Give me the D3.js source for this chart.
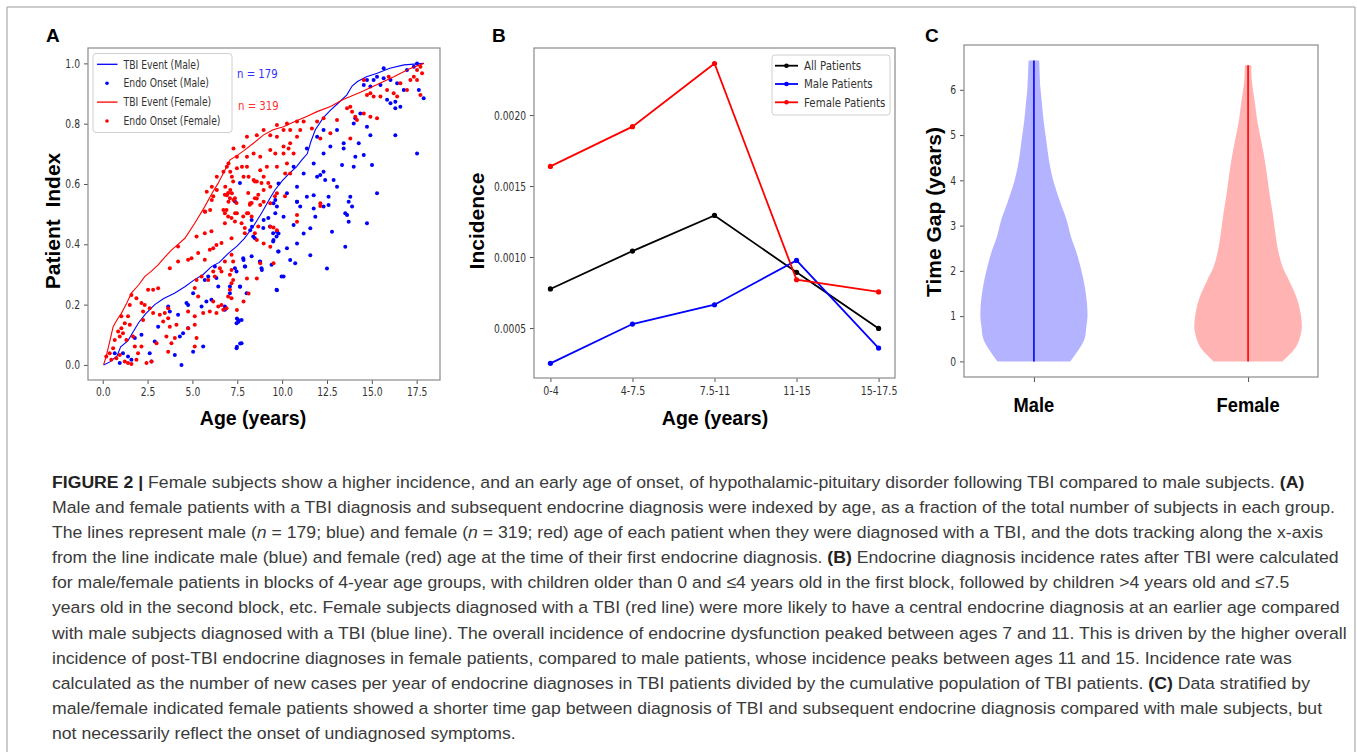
<!DOCTYPE html>
<html>
<head>
<meta charset="utf-8">
<script src="https://cdn.jsdelivr.net/npm/d3@7"></script>
<style>
  body { margin: 0; background: #fff; }
  svg { display: block; }
</style>
</head>
<body>
<script>
// ---- panel A: cumulative patient index vs age ----
const maleTbiCurve = [[0.05,0],[0.4,0.01],[0.8,0.03],[1.0,0.06],[1.4,0.08],[1.7,0.11],[2.0,0.14],[2.4,0.17],[2.9,0.2],[3.4,0.22],[4.0,0.238],[4.6,0.26],[5.1,0.282],[5.6,0.3],[6.06,0.326],[6.5,0.34],[7.0,0.37],[7.5,0.395],[7.9,0.42],[8.4,0.46],[8.85,0.503],[9.3,0.55],[9.6,0.58],[10.0,0.61],[10.4,0.635],[10.8,0.657],[11.1,0.68],[11.4,0.7],[11.6,0.74],[11.85,0.78],[12.3,0.82],[12.7,0.845],[13.1,0.867],[13.6,0.895],[13.9,0.925],[14.2,0.94],[14.7,0.956],[15.3,0.967],[16.0,0.984],[16.8,0.995],[17.9,1.0]];
const femaleTbiCurve = [[0.05,0],[0.2,0.03],[0.4,0.08],[0.58,0.127],[0.8,0.15],[1.04,0.171],[1.3,0.2],[1.6,0.238],[2.0,0.265],[2.34,0.293],[2.7,0.31],[3.09,0.332],[3.5,0.36],[3.83,0.381],[4.2,0.4],[4.58,0.42],[5.13,0.47],[5.69,0.525],[6.1,0.57],[6.43,0.602],[6.8,0.645],[7.1,0.68],[7.5,0.695],[7.85,0.71],[8.4,0.735],[8.97,0.763],[9.5,0.78],[10.08,0.79],[10.8,0.81],[11.4,0.825],[11.95,0.84],[12.7,0.857],[13.4,0.88],[14.4,0.905],[15.3,0.93],[16.2,0.955],[17.1,0.982],[17.9,1.0]];

const maleEndoOnset = [[0.95,0.006],[0.67,0.039],[1.13,0.039],[1.41,0.028],[1.6,0.017],[1.79,0.089],[2.16,0.1],[2.62,0.039],[2.72,0.011],[2.9,0.078],[3.09,0.127],[3.65,0.194],[3.74,0.177],[4.2,0.166],[4.02,0.033],[4.39,0.0],[4.3,0.094],[4.48,0.105],[4.76,0.122],[4.67,0.205],[4.76,0.199],[5.04,0.238],[5.6,0.061],[5.04,0.044],[5.51,0.194],[5.78,0.21],[6.06,0.216],[5.88,0.293],[6.34,0.288],[6.44,0.26],[6.81,0.194],[6.81,0.183],[7.09,0.238],[7.09,0.26],[7.37,0.321],[7.46,0.31],[7.65,0.26],[7.55,0.149],[7.74,0.149],[7.46,0.138],[7.74,0.072],[7.46,0.055],[7.83,0.354],[7.92,0.326],[8.02,0.238],[8.3,0.36],[8.48,0.42],[8.76,0.343],[8.85,0.321],[9.41,0.332],[9.5,0.409],[9.5,0.437],[9.69,0.426],[9.78,0.376],[9.97,0.293],[9.69,0.249],[9.23,0.487],[9.32,0.459],[8.3,0.481],[8.39,0.426],[8.95,0.454],[7.65,0.603],[7.37,0.542],[6.25,0.326],[5.69,0.282],
  [9.52,0.536],[9.62,0.503],[9.71,0.442],[9.8,0.436],[9.52,0.414],[9.8,0.376],[9.71,0.248],[10.08,0.293],[10.45,0.348],[10.27,0.387],[10.64,0.464],[10.83,0.403],[10.83,0.541],[10.73,0.337],[11.2,0.436],[11.57,0.453],[11.57,0.364],[11.76,0.519],[12.5,0.32],[12.59,0.53],[12.78,0.442],[13.52,0.392],[13.62,0.497],[13.71,0.475],[13.9,0.525],[14.73,0.47],[8.78,0.342],[8.87,0.315],[8.97,0.481],[8.22,0.447],[8.32,0.458],[7.85,0.348],[7.94,0.326],[7.66,0.259],[7.57,0.143],[7.48,0.06],[7.66,0.071],[7.48,0.154],
  [9.62,0.547],[9.71,0.525],[10.08,0.491],[10.83,0.541],[11.01,0.525],[11.38,0.558],[11.76,0.563],[11.85,0.491],[12.31,0.525],[12.59,0.558],[12.13,0.63],[12.4,0.613],[11.95,0.624],[11.76,0.668],[12.31,0.641],[12.31,0.701],[12.87,0.613],[13.52,0.503],[13.71,0.541],[13.8,0.558],[13.06,0.591],[13.34,0.663],[13.43,0.718],[13.43,0.735],[13.99,0.657],[14.08,0.69],[14.55,0.696],[14.27,0.735],[13.99,0.801],[14.08,0.818],[14.36,0.834],[14.73,0.79],[14.92,0.762],[15.29,0.569],[15.01,0.663],[15.85,0.879],[16.04,0.868],[16.31,0.851],[16.59,0.856],[16.31,0.873],[16.78,0.912],[16.41,0.934],[16.04,0.945],[15.66,0.951],[15.48,0.928],[15.29,0.956],[15.1,0.945],[14.92,0.923],[14.55,0.928],[14.73,0.945],[16.31,0.762],[17.52,0.701],[17.62,0.912],[17.89,0.884],[17.34,0.989],[16.96,0.978],[17.52,1.0],[15.66,0.984],[13.06,0.779],[12.69,0.724],[12.31,0.779],[11.95,0.757],[11.38,0.718],[10.64,0.657],[11.2,0.635],[9.8,0.602],[10.27,0.569],[10.83,0.591]];

const femaleEndoOnset = [[0.39,0.039],[0.58,0.055],[0.67,0.083],[0.86,0.111],[0.95,0.094],[1.04,0.122],[1.13,0.105],[1.23,0.138],[1.51,0.133],[1.41,0.161],[1.04,0.161],[1.51,0.199],[1.6,0.232],[1.88,0.221],[2.16,0.205],[2.25,0.177],[2.25,0.149],[2.34,0.199],[2.53,0.249],[2.81,0.249],[3.09,0.254],[2.62,0.188],[2.81,0.172],[3.18,0.166],[3.46,0.172],[3.65,0.188],[3.65,0.155],[3.74,0.127],[3.55,0.094],[3.83,0.072],[4.02,0.089],[3.65,0.044],[4.11,0.133],[4.76,0.122],[4.76,0.177],[5.13,0.161],[5.13,0.133],[5.23,0.089],[5.13,0.061],[5.6,0.172],[5.97,0.177],[6.16,0.21],[6.34,0.172],[6.44,0.194],[6.62,0.199],[6.72,0.183],[6.9,0.188],[6.99,0.227],[7.18,0.221],[7.09,0.249],[7.18,0.271],[7.27,0.282],[7.09,0.299],[7.18,0.315],[7.27,0.343],[7.18,0.365],[6.81,0.343],[6.53,0.321],[6.62,0.31],[6.25,0.293],[6.16,0.31],[5.88,0.282],[5.51,0.293],[5.23,0.282],[5.13,0.255],[5.32,0.227],[4.76,0.349],[4.95,0.354],[5.32,0.371],[5.69,0.349],[4.2,0.343],[3.74,0.321],[4.2,0.393],[5.23,0.426],[5.69,0.437],[6.06,0.443],[5.97,0.382],[6.16,0.387],[6.34,0.398],[6.62,0.404],[7.18,0.42],[6.81,0.47],[6.81,0.503],[6.99,0.492],[7.18,0.487],[7.37,0.476],[7.74,0.47],[7.83,0.492],[8.11,0.503],[8.3,0.492],[8.2,0.531],[8.11,0.57],[8.3,0.537],[8.48,0.553],[8.67,0.564],[6.81,0.564],[6.99,0.57],[7.09,0.553],[7.37,0.553],[7.46,0.537],[6.9,0.514],[7.27,0.608],[8.48,0.608],[8.85,0.603],[9.23,0.603],[9.6,0.559],[10.16,0.559],[6.16,0.559],[5.69,0.509],[7.92,0.454],[8.67,0.459],[8.48,0.437],[7.92,0.437],
  [0.48,0.017],[0.2,0.028],[0.76,0.022],[0.95,0.033],[1.23,0.011],[1.41,0.006],[1.6,0.003],[1.88,0.017],[2.44,0.006],[2.72,0.011],[1.97,0.039],[1.79,0.061],[2.16,0.061],[1.32,0.083],[1.69,0.094],[3.0,0.072],[3.37,0.144],
  [7.48,0.182],[7.85,0.21],[8.13,0.237],[8.04,0.287],[8.59,0.287],[8.78,0.337],[8.97,0.403],[8.59,0.414],[9.34,0.458],[9.52,0.456],[9.71,0.447],[10.83,0.497],[10.83,0.475],[12.13,0.527],[9.34,0.536],[8.78,0.53],[7.38,0.503],[9.34,0.392],[9.52,0.337],
  [5.71,0.508],[6.36,0.58],[6.83,0.591],[6.92,0.563],[7.11,0.58],[7.2,0.569],[7.01,0.541],[7.29,0.547],[6.73,0.514],[7.48,0.503],[8.04,0.503],[8.22,0.536],[8.59,0.552],[8.97,0.541],[7.85,0.624],[8.13,0.624],[8.41,0.613],[8.59,0.608],[8.97,0.624],[8.78,0.646],[9.15,0.657],[7.48,0.652],[7.76,0.657],[8.04,0.657],[7.48,0.69],[8.04,0.69],[8.41,0.701],[8.78,0.69],[9.34,0.713],[9.62,0.701],[10.08,0.724],[10.36,0.718],[10.08,0.701],[10.45,0.735],[10.64,0.701],[9.34,0.762],[9.71,0.757],[10.08,0.779],[10.45,0.779],[10.83,0.757],[11.01,0.779],[11.2,0.807],[11.66,0.784],[11.95,0.807],[10.83,0.807],[10.27,0.801],[9.71,0.657],[10.27,0.668],[8.97,0.58],[9.34,0.591],[9.71,0.569],[10.17,0.635],[10.45,0.635],[12.31,0.818],[12.13,0.536],
  [13.62,0.851],[13.8,0.856],[13.9,0.84],[14.08,0.823],[14.17,0.812],[13.8,0.751],[14.55,0.834],[14.73,0.895],[14.92,0.901],[15.1,0.89],[15.48,0.89],[15.85,0.912],[16.22,0.901],[16.41,0.89],[16.59,0.934],[16.96,0.912],[17.15,0.945],[17.34,0.956],[17.52,0.978],[17.71,0.989],[17.8,0.967],[17.52,0.945],[17.71,0.895],[14.92,0.823],[15.29,0.818],[15.94,0.956],[14.55,0.945],[12.69,0.768],[12.13,0.751],[13.06,0.812],
  [6.08,0.591],[6.36,0.624],[6.73,0.641],[7.01,0.668],[7.29,0.718],[7.85,0.724],[8.04,0.757],[8.59,0.762],[8.97,0.779],[9.71,0.796],[7.2,0.624],[7.11,0.641],[6.92,0.657],[6.08,0.547],[5.99,0.514],[5.8,0.574]];

const ageTicksA = [0, 2.5, 5, 7.5, 10, 12.5, 15, 17.5];
const indexTicksA = [0, 0.2, 0.4, 0.6, 0.8, 1.0];
const maleCount = 179;
const femaleCount = 319;

// ---- panel B: incidence per age block ----
const ageGroups = ["0-4", "4-7.5", "7.5-11", "11-15", "15-17.5"];
const allIncidence = [0.000775, 0.001042, 0.001293, 0.000892, 0.000497];
const maleIncidence = [0.000251, 0.000528, 0.000664, 0.000976, 0.000359];
const femaleIncidence = [0.001638, 0.001918, 0.002363, 0.00084, 0.000754];
const incidenceTicks = [0.0005, 0.0010, 0.0015, 0.0020];

// ---- panel C: time gap violins (value, relative density) ----
const sexLabels = ["Male", "Female"];
const maleGapValues = [0, 0.48, 0.77, 0.99, 1.29, 1.65, 1.99, 2.39, 2.76, 3.13, 3.49, 4.0, 4.45, 4.89, 5.33, 5.7, 6.07, 6.65];
const maleGapDensity = [0.68, 0.94, 0.98, 1.0, 0.99, 0.95, 0.89, 0.8, 0.69, 0.61, 0.5, 0.36, 0.28, 0.23, 0.18, 0.15, 0.12, 0.1];
const femaleGapValues = [0, 0.33, 0.7, 1.07, 1.43, 1.8, 2.1, 2.46, 2.83, 3.27, 3.71, 4.15, 4.6, 4.96, 5.33, 5.7, 6.21, 6.54];
const femaleGapDensity = [0.64, 0.9, 1.0, 0.98, 0.9, 0.76, 0.64, 0.56, 0.51, 0.46, 0.4, 0.35, 0.29, 0.23, 0.17, 0.13, 0.07, 0.06];
const gapTicks = [0, 1, 2, 3, 4, 5, 6];

// caption, one entry per printed line; segments are [text, style]
const captionLines = [
  [["FIGURE 2 | ", "b"], ["Female subjects show a higher incidence, and an early age of onset, of hypothalamic-pituitary disorder following TBI compared to male subjects. ", ""], ["(A)", "b"]],
  [["Male and female patients with a TBI diagnosis and subsequent endocrine diagnosis were indexed by age, as a fraction of the total number of subjects in each group.", ""]],
  [["The lines represent male (", ""], ["n", "i"], [" = 179; blue) and female (", ""], ["n", "i"], [" = 319; red) age of each patient when they were diagnosed with a TBI, and the dots tracking along the x-axis", ""]],
  [["from the line indicate male (blue) and female (red) age at the time of their first endocrine diagnosis. ", ""], ["(B)", "b"], [" Endocrine diagnosis incidence rates after TBI were calculated", ""]],
  [["for male/female patients in blocks of 4-year age groups, with children older than 0 and \u22644 years old in the first block, followed by children >4 years old and \u22647.5", ""]],
  [["years old in the second block, etc. Female subjects diagnosed with a TBI (red line) were more likely to have a central endocrine diagnosis at an earlier age compared", ""]],
  [["with male subjects diagnosed with a TBI (blue line). The overall incidence of endocrine dysfunction peaked between ages 7 and 11. This is driven by the higher overall", ""]],
  [["incidence of post-TBI endocrine diagnoses in female patients, compared to male patients, whose incidence peaks between ages 11 and 15. Incidence rate was", ""]],
  [["calculated as the number of new cases per year of endocrine diagnoses in TBI patients divided by the cumulative population of TBI patients. ", ""], ["(C)", "b"], [" Data stratified by", ""]],
  [["male/female indicated female patients showed a shorter time gap between diagnosis of TBI and subsequent endocrine diagnosis compared with male subjects, but", ""]],
  [["not necessarily reflect the onset of undiagnosed symptoms.", ""]]
];

const width = 1357;
const height = 752;
const MPL_FONT = "DejaVu Sans, sans-serif";
const BOLD_FONT = "Liberation Sans, Arial, sans-serif";
const FRAME = "#8a8a8a";
const BLUE = "#0000ff";
const RED = "#ff0000";

const svg = d3.select("body").append("svg")
    .attr("width", width).attr("height", height)
    .attr("viewBox", [0, 0, width, height]);

// the figure image is horizontally squashed, so squeeze text widths
function squeeze(sel, ratio) {
    sel.each(function () {
        const w = this.getComputedTextLength();
        this.setAttribute("textLength", w * ratio);
        this.setAttribute("lengthAdjust", "spacingAndGlyphs");
    });
}

function styleAxis(g, fontSize, ratio) {
    g.select(".domain").remove();
    g.selectAll(".tick line").attr("stroke", "#555").attr("stroke-width", 1);
    g.selectAll(".tick text")
        .attr("fill", "#333")
        .style("font-family", MPL_FONT)
        .style("font-size", fontSize + "px");
    squeeze(g.selectAll(".tick text"), ratio);
}

function frame(box) {
    svg.append("rect")
        .attr("x", box.left).attr("y", box.top)
        .attr("width", box.right - box.left).attr("height", box.bottom - box.top)
        .attr("fill", "none").attr("stroke", FRAME).attr("stroke-width", 1.2);
}

function panelLetter(x, y, t) {
    svg.append("text").attr("x", x).attr("y", y).text(t)
        .style("font-family", BOLD_FONT).style("font-weight", "bold").style("font-size", "19px");
}

function xLabel(x, y, t, ratio) {
    const el = svg.append("text").attr("x", x).attr("y", y).attr("text-anchor", "middle").text(t)
        .style("font-family", BOLD_FONT).style("font-weight", "bold").style("font-size", "21px");
    squeeze(el, ratio);
}

function yLabel(x, y, t) {
    svg.append("text")
        .attr("transform", `translate(${x},${y}) rotate(-90)`)
        .attr("text-anchor", "middle")
        .attr("xml:space", "preserve")
        .style("white-space", "pre")
        .text(t)
        .style("font-family", BOLD_FONT).style("font-weight", "bold").style("font-size", "21px");
}

// outer figure border
svg.append("path")
    .attr("d", `M7,${height} L7,7 L1355,7 L1355,${height}`)
    .attr("fill", "none").attr("stroke", "#9a9a9a").attr("stroke-width", 1);

// ================= Panel A =================
function drawPanelA() {
    const box = {left: 88, right: 440, top: 48, bottom: 380};
    const x = d3.scaleLinear().domain([-0.82, 18.8]).range([box.left, box.right]);
    const y = d3.scaleLinear().domain([-0.05, 1.051]).range([box.bottom, box.top]);

    const gx = svg.append("g").attr("transform", `translate(0,${box.bottom})`)
        .call(d3.axisBottom(x).tickValues(ageTicksA).tickFormat(d3.format(".1f")).tickSize(4).tickPadding(4));
    styleAxis(gx, 11.5, 0.8);
    const gy = svg.append("g").attr("transform", `translate(${box.left},0)`)
        .call(d3.axisLeft(y).tickValues(indexTicksA).tickFormat(d3.format(".1f")).tickSize(4).tickPadding(4));
    styleAxis(gy, 11.5, 0.8);

    const line = d3.line().x(d => x(d[0])).y(d => y(d[1]));
    const plot = svg.append("g");

    plot.append("path").datum(maleTbiCurve).attr("d", line)
        .attr("fill", "none").attr("stroke", BLUE).attr("stroke-width", 1.1);
    plot.append("g").selectAll("circle").data(maleEndoOnset).join("circle")
        .attr("cx", d => x(d[0])).attr("cy", d => y(d[1])).attr("r", 2).attr("fill", BLUE);
    plot.append("path").datum(femaleTbiCurve).attr("d", line)
        .attr("fill", "none").attr("stroke", RED).attr("stroke-width", 1.1);
    plot.append("g").selectAll("circle").data(femaleEndoOnset).join("circle")
        .attr("cx", d => x(d[0])).attr("cy", d => y(d[1])).attr("r", 2).attr("fill", RED);

    frame(box);

    // legend
    svg.append("rect").attr("x", 93).attr("y", 53.5).attr("width", 139).attr("height", 79).attr("rx", 3)
        .attr("fill", "#fff").attr("fill-opacity", 0.8).attr("stroke", "#d0d0d0");
    const entries = [
        {label: "TBI Event (Male)", color: BLUE, kind: "line"},
        {label: "Endo Onset (Male)", color: BLUE, kind: "dot"},
        {label: "TBI Event (Female)", color: RED, kind: "line"},
        {label: "Endo Onset (Female)", color: RED, kind: "dot"}
    ];
    const lg = svg.append("g").selectAll("g").data(entries).join("g")
        .attr("transform", (d, i) => `translate(97,${64.3 + i * 18.9})`);
    lg.filter(d => d.kind === "line").append("line")
        .attr("x1", 0).attr("x2", 20.5).attr("stroke", d => d.color).attr("stroke-width", 1.3);
    lg.filter(d => d.kind === "dot").append("circle")
        .attr("cx", 10).attr("r", 1.8).attr("fill", d => d.color);
    const lt = lg.append("text").attr("x", 26.5).attr("dy", "0.35em").text(d => d.label)
        .attr("fill", "#333").style("font-family", MPL_FONT).style("font-size", "12px");
    squeeze(lt, 0.77);

    const n1 = svg.append("text").attr("x", 237).attr("y", 77.5).text(`n = ${maleCount}`)
        .attr("fill", "#3030ff").style("font-family", MPL_FONT).style("font-size", "13px");
    const n2 = svg.append("text").attr("x", 238).attr("y", 109.5).text(`n = ${femaleCount}`)
        .attr("fill", "#ff3030").style("font-family", MPL_FONT).style("font-size", "13px");
    squeeze(n1, 0.78);
    squeeze(n2, 0.78);

    yLabel(60, 221, "Patient  Index");
    xLabel(253, 425, "Age (years)", 0.93);
    panelLetter(46, 42, "A");
}

// ================= Panel B =================
function drawPanelB() {
    const box = {left: 534, right: 895, top: 48, bottom: 378};
    const x = d3.scaleLinear().domain([-0.2, 4.2]).range([box.left, box.right]);
    const y = d3.scaleLinear().domain([0.000148, 0.002472]).range([box.bottom, box.top]);

    const gx = svg.append("g").attr("transform", `translate(0,${box.bottom})`)
        .call(d3.axisBottom(x).tickValues(d3.range(ageGroups.length)).tickFormat(i => ageGroups[i]).tickSize(4).tickPadding(4));
    styleAxis(gx, 12.5, 0.76);
    const gy = svg.append("g").attr("transform", `translate(${box.left},0)`)
        .call(d3.axisLeft(y).tickValues(incidenceTicks).tickFormat(d3.format(".4f")).tickSize(4).tickPadding(4));
    styleAxis(gy, 12.5, 0.73);

    const series = [
        {name: "All Patients", values: allIncidence, color: "#000"},
        {name: "Male Patients", values: maleIncidence, color: BLUE},
        {name: "Female Patients", values: femaleIncidence, color: RED}
    ];
    const line = d3.line().x((d, i) => x(i)).y(d => y(d));
    const sg = svg.append("g").selectAll("g").data(series).join("g");
    sg.append("path").attr("d", d => line(d.values))
        .attr("fill", "none").attr("stroke", d => d.color).attr("stroke-width", 1.8);
    sg.each(function (s) {
        d3.select(this).selectAll("circle").data(s.values).join("circle")
            .attr("cx", (d, i) => x(i)).attr("cy", d => y(d)).attr("r", 2.6).attr("fill", s.color);
    });

    frame(box);

    svg.append("rect").attr("x", 772).attr("y", 55).attr("width", 118).attr("height", 60).attr("rx", 3)
        .attr("fill", "#fff").attr("fill-opacity", 0.8).attr("stroke", "#d0d0d0");
    const lg = svg.append("g").selectAll("g").data(series).join("g")
        .attr("transform", (d, i) => `translate(775,${65.7 + i * 18.3})`);
    lg.append("line").attr("x1", 0).attr("x2", 23).attr("stroke", d => d.color).attr("stroke-width", 1.8);
    lg.append("circle").attr("cx", 11.5).attr("r", 2.3).attr("fill", d => d.color);
    const lt = lg.append("text").attr("x", 29).attr("dy", "0.35em").text(d => d.name)
        .attr("fill", "#333").style("font-family", MPL_FONT).style("font-size", "12.5px");
    squeeze(lt, 0.82);

    yLabel(484, 221, "Incidence");
    xLabel(715, 425, "Age (years)", 0.93);
    panelLetter(492, 42, "B");
}

// ================= Panel C =================
function drawPanelC() {
    const box = {left: 964, right: 1318, top: 45, bottom: 377};
    const x = d3.scaleLinear().domain([0.6735, 2.3265]).range([box.left, box.right]);
    const y = d3.scaleLinear().domain([-0.345, 6.99]).range([box.bottom, box.top]);

    const gy = svg.append("g").attr("transform", `translate(${box.left},0)`)
        .call(d3.axisLeft(y).tickValues(gapTicks).tickSize(4).tickPadding(4));
    styleAxis(gy, 11.5, 0.8);
    const gx = svg.append("g").attr("transform", `translate(0,${box.bottom})`)
        .call(d3.axisBottom(x).tickValues([1, 2]).tickFormat("").tickSize(5));
    gx.select(".domain").remove();
    gx.selectAll(".tick line").attr("stroke", "#555");

    const violins = [
        {pos: 1, values: maleGapValues, dens: maleGapDensity, fill: "#b3b3ff", stroke: BLUE},
        {pos: 2, values: femaleGapValues, dens: femaleGapDensity, fill: "#ffb3b3", stroke: RED}
    ];
    const halfWidth = 0.25;
    violins.forEach(v => {
        const pts = v.values.map((val, i) => ({val, w: v.dens[i] * halfWidth}));
        const area = d3.area()
            .y(d => y(d.val))
            .x0(d => x(v.pos - d.w))
            .x1(d => x(v.pos + d.w))
            .curve(d3.curveCatmullRom);
        svg.append("path").datum(pts).attr("d", area).attr("fill", v.fill);
        const [lo, hi] = d3.extent(v.values);
        svg.append("line")
            .attr("x1", x(v.pos)).attr("x2", x(v.pos))
            .attr("y1", y(lo)).attr("y2", y(hi))
            .attr("stroke", v.stroke).attr("stroke-width", 1.6);
    });

    frame(box);

    sexLabels.forEach((s, i) => xLabel(x(i + 1), 412, s, 0.87));
    yLabel(941, 212, "Time Gap (years)");
    panelLetter(925, 42, "C");
}

// ================= Caption =================
function drawCaption() {
    const cap = svg.append("g").attr("transform", "translate(52,0)");
    const texts = cap.selectAll("text").data(captionLines).join("text")
        .attr("x", 0)
        .attr("y", (d, i) => 488 + i * 25.1)
        .attr("xml:space", "preserve")
        .style("white-space", "pre")
        .style("font-family", "Liberation Sans, Arial, sans-serif")
        .style("font-size", "17px")
        .attr("fill", "#3a3a3a");
    texts.selectAll("tspan").data(d => d).join("tspan")
        .text(d => d[0])
        .style("font-weight", d => d[1] === "b" ? "bold" : null)
        .style("font-style", d => d[1] === "i" ? "italic" : null)
        .attr("fill", d => d[1] === "b" ? "#222" : null);
    const natural = texts.nodes()[1].getComputedTextLength();
    const ratio = 1284 / natural;
    cap.attr("transform", `translate(52,0) scale(${ratio},1)`);
}

drawPanelA();
drawPanelB();
drawPanelC();
drawCaption();
</script>
</body>
</html>
